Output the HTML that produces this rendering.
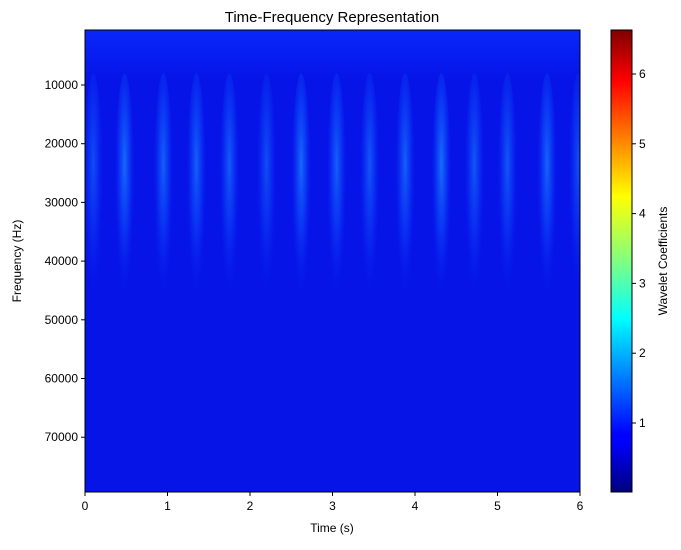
<!DOCTYPE html>
<html><head><meta charset="utf-8"><style>
body{margin:0;background:#fff;font-family:"Liberation Sans",sans-serif;}
svg text{font-family:"Liberation Sans",sans-serif;fill:#000;}
</style></head><body>
<svg id="chart" width="681" height="545" viewBox="0 0 681 545" xmlns="http://www.w3.org/2000/svg">
<defs>
<linearGradient id="jet" x1="0" y1="1" x2="0" y2="0">
<stop offset="0" stop-color="#000080"/><stop offset="0.11" stop-color="#0000ff"/><stop offset="0.125" stop-color="#0000ff"/>
<stop offset="0.35" stop-color="#00e4ff"/><stop offset="0.375" stop-color="#00ffff"/><stop offset="0.5" stop-color="#80ff80"/>
<stop offset="0.64" stop-color="#ffff00"/><stop offset="0.89" stop-color="#ff0000"/><stop offset="1" stop-color="#800000"/>
</linearGradient>
<radialGradient id="burst" cx="0.5" cy="0.35" r="0.5">
<stop offset="0" stop-color="#1a78ff" stop-opacity="0.95"/>
<stop offset="0.5" stop-color="#1060ff" stop-opacity="0.5"/>
<stop offset="1" stop-color="#0a30ff" stop-opacity="0"/>
</radialGradient>
<linearGradient id="topband" x1="0" y1="0" x2="0" y2="1">
<stop offset="0" stop-color="#0a2cff" stop-opacity="0.8"/>
<stop offset="1" stop-color="#0a2cff" stop-opacity="0"/>
</linearGradient>
<clipPath id="plotclip"><rect x="85" y="30" width="495" height="462"/></clipPath>
</defs>
<text x="332" y="22" font-size="15" text-anchor="middle">Time-Frequency Representation</text>
<g id="heat" clip-path="url(#plotclip)">
<rect x="85" y="30" width="495" height="462" fill="#0614e8"/>
<rect x="85" y="30" width="495" height="50" fill="url(#topband)"/>
</g>
<g id="xaxis"></g>
<g id="yaxis"></g>
<rect x="85" y="30" width="495" height="462" fill="none" stroke="#000" stroke-width="1"/>
<text x="332" y="532" font-size="12" text-anchor="middle">Time (s)</text>
<text transform="translate(21,261) rotate(-90)" font-size="12" text-anchor="middle">Frequency (Hz)</text>
<rect x="611" y="30" width="21" height="462" fill="url(#jet)" stroke="#000" stroke-width="1"/>
<g id="cbaxis"></g>
<text transform="translate(667,261) rotate(-90)" font-size="12" text-anchor="middle">Wavelet Coefficients</text>
</svg>
<script>
const burstTimes=[0.1,0.48,0.95,1.35,1.75,2.2,2.62,3.05,3.45,3.88,4.32,4.72,5.12,5.6,5.98];
const burstAmps=[0.6,0.9,0.8,0.8,0.75,0.6,0.9,0.8,0.7,0.8,0.95,0.7,0.7,0.85,0.6];
const xTicks=[0,1,2,3,4,5,6];
const yTicks=[10000,20000,30000,40000,50000,60000,70000];
const cTicks=[1,2,3,4,5,6];
const NS="http://www.w3.org/2000/svg";
const xs=t=>85+t*82.5;
const ys=f=>85+(f-10000)*0.00587;
const cs=v=>423-(v-1)*69.8;
function mk(tag,a,p){const e=document.createElementNS(NS,tag);for(const k in a)e.setAttribute(k,a[k]);p.appendChild(e);return e;}
const heat=document.getElementById('heat');
burstTimes.forEach((t,i)=>{
 const top=ys(8000),bot=ys(52000);
 const r=mk('ellipse',{cx:xs(t),cy:(top+bot)/2,rx:10,ry:(bot-top)/2,fill:'url(#burst)',opacity:burstAmps[i]},heat);
 
 
});
const xa=document.getElementById('xaxis');
xTicks.forEach(t=>{
 const l=mk('line',{x1:xs(t),x2:xs(t),y1:492,y2:496,stroke:'#000'},xa);
 
 
 const tx=mk('text',{x:xs(t),y:510,'font-size':12,'text-anchor':'middle'},xa);tx.textContent=t;
 
 
});
const ya=document.getElementById('yaxis');
yTicks.forEach(f=>{
 const l=mk('line',{x1:81,x2:85,y1:ys(f),y2:ys(f),stroke:'#000'},ya);
 
 
 const tx=mk('text',{x:78,y:ys(f)+4,'font-size':12,'text-anchor':'end'},ya);tx.textContent=f;
 
 
});
const ca=document.getElementById('cbaxis');
cTicks.forEach(v=>{
 const l=mk('line',{x1:632,x2:636,y1:cs(v),y2:cs(v),stroke:'#000'},ca);
 
 
 const tx=mk('text',{x:639,y:cs(v)+4,'font-size':12},ca);tx.textContent=v;
 
 
});
</script>
</body></html>
